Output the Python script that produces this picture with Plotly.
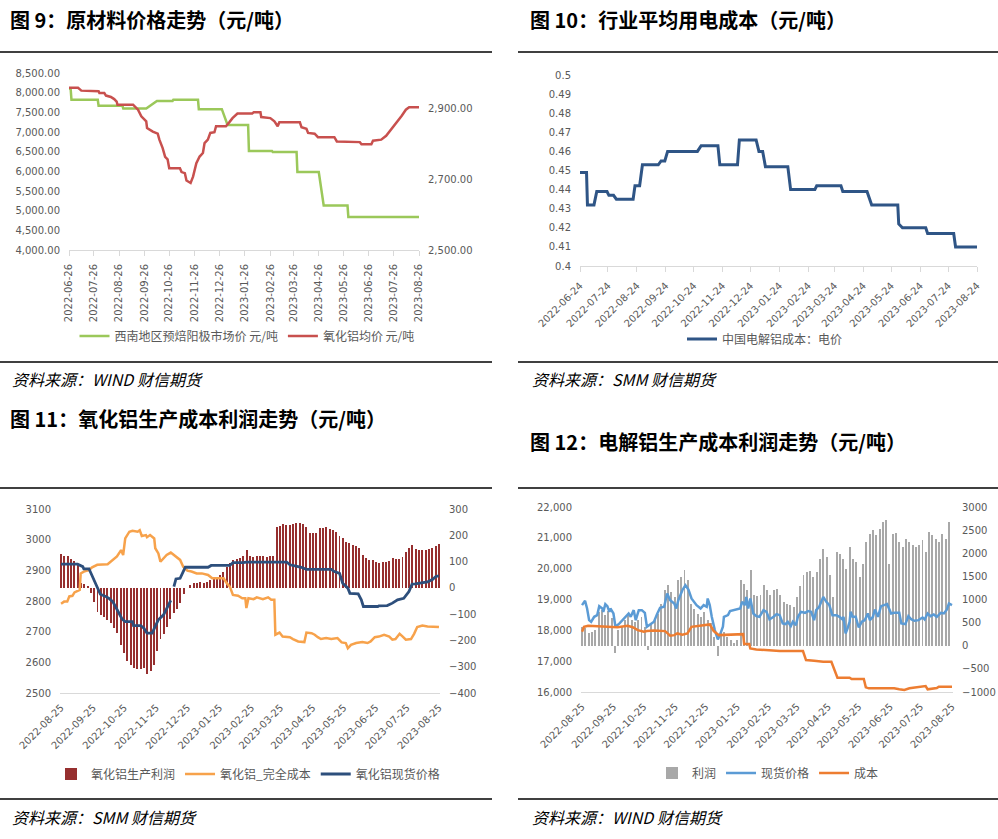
import pandas as pd
import plotly.graph_objects as go

W, H = 998, 839


def fx(p):
    return p / W


def fy(p):
    return 1 - p / H


# ---------------- Panel 1 : 原材料价格走势 ----------------
anode_dates = ["2022-06-26", "2022-06-28", "2022-06-29", "2022-07-31", "2022-08-01", "2022-08-30",
               "2022-08-31", "2022-09-28", "2022-10-11", "2022-10-30", "2022-10-31", "2022-11-30",
               "2022-12-01", "2022-12-29", "2023-01-05", "2023-01-30", "2023-01-31", "2023-02-28",
               "2023-03-01", "2023-03-30", "2023-03-31", "2023-04-26", "2023-05-02", "2023-05-31",
               "2023-06-01", "2023-08-26"]
anode_price = [8100, 8100, 7820, 7820, 7670, 7670, 7600, 7600, 7790, 7790, 7820, 7820, 7580, 7580,
               7180, 7180, 6520, 6520, 6490, 6490, 5980, 5980, 5130, 5130, 4840, 4840]

alumina_dates = ["2022-06-26", "2022-07-07", "2022-07-11", "2022-08-01", "2022-08-02", "2022-08-08",
                 "2022-08-10", "2022-08-16", "2022-08-20", "2022-08-23", "2022-08-24", "2022-09-12",
                 "2022-09-18", "2022-09-22", "2022-09-28", "2022-09-29", "2022-10-06", "2022-10-12",
                 "2022-10-14", "2022-10-18", "2022-10-21", "2022-10-24", "2022-10-26", "2022-11-08",
                 "2022-11-10", "2022-11-14", "2022-11-16", "2022-11-21", "2022-11-24", "2022-11-28",
                 "2022-12-02", "2022-12-06", "2022-12-08", "2022-12-12", "2022-12-15", "2022-12-20",
                 "2022-12-22", "2023-01-03", "2023-01-07", "2023-01-11", "2023-01-17", "2023-02-04",
                 "2023-02-06", "2023-02-14", "2023-02-15", "2023-02-26", "2023-03-03", "2023-03-07",
                 "2023-03-09", "2023-04-03", "2023-04-05", "2023-04-11", "2023-04-13", "2023-04-21",
                 "2023-04-25", "2023-05-15", "2023-05-18", "2023-06-15", "2023-06-17", "2023-06-29",
                 "2023-07-01", "2023-07-11", "2023-07-17", "2023-07-21", "2023-07-27", "2023-07-31",
                 "2023-08-02", "2023-08-05", "2023-08-10", "2023-08-14", "2023-08-26"]
alumina_price = [2960, 2960, 2952, 2950, 2945, 2945, 2938, 2934, 2928, 2921,
                 2912, 2912, 2898, 2879, 2865, 2846, 2836, 2830, 2813, 2789,
                 2764, 2757, 2732, 2732, 2721, 2718, 2697, 2690, 2708, 2746,
                 2765, 2775, 2803, 2813, 2832, 2834, 2851, 2851, 2862, 2874,
                 2887, 2887, 2891, 2891, 2877, 2874, 2865, 2851, 2862, 2862,
                 2848, 2844, 2832, 2830, 2820, 2820, 2808, 2806, 2800, 2800,
                 2810, 2813, 2824, 2836, 2851, 2865, 2870, 2881, 2898, 2905, 2905]
p1_ticks = [d.strftime("%Y-%m-%d") for d in pd.date_range("2022-06-26", periods=15, freq=pd.DateOffset(months=1))]

# ---------------- Panel 2 : 行业平均用电成本 ----------------
power_dates = ["2022-06-24", "2022-07-01", "2022-07-02", "2022-07-09", "2022-07-12", "2022-07-23",
               "2022-07-25", "2022-07-30", "2022-08-02", "2022-08-20", "2022-08-22", "2022-08-27",
               "2022-08-30", "2022-09-16", "2022-09-19", "2022-09-23", "2022-09-26", "2022-10-28",
               "2022-11-01", "2022-11-19", "2022-11-21", "2022-12-10", "2022-12-12", "2022-12-30",
               "2023-01-02", "2023-01-06", "2023-01-09", "2023-02-02", "2023-02-05", "2023-03-03",
               "2023-03-05", "2023-03-31", "2023-04-02", "2023-04-28", "2023-05-03", "2023-05-31",
               "2023-06-01", "2023-06-05", "2023-06-30", "2023-07-02", "2023-07-30", "2023-08-01",
               "2023-08-24"]
power_price = [0.449, 0.449, 0.432, 0.432, 0.439, 0.439, 0.437, 0.437, 0.435, 0.435,
               0.442, 0.442, 0.453, 0.453, 0.455, 0.455, 0.460, 0.460, 0.463, 0.463,
               0.453, 0.453, 0.466, 0.466, 0.460, 0.460, 0.452, 0.452, 0.440, 0.440,
               0.442, 0.442, 0.439, 0.439, 0.432, 0.432, 0.422, 0.420, 0.420, 0.417,
               0.417, 0.410, 0.410]
p2_ticks = [d.strftime("%Y-%m-%d") for d in pd.date_range("2022-06-24", periods=15, freq=pd.DateOffset(months=1))]

# ---------------- Panel 3 : 氧化铝生产成本利润 ----------------
base3 = pd.Timestamp("2022-08-25")
al_profit = [129, 122, 122, 110, 102, 90, 18, 13, 5, -20,
             -52, -90, -103, -109, -122, -134, -153, -172, -216, -248,
             -280, -292, -305, -308, -308, -305, -328, -318, -295, -240,
             -195, -175, -150, -118, -97, -80, -58, -25, 0, 10,
             18, 19, 21, 20, 24, 29, 33, 42, 49, 62,
             81, 96, 106, 109, 113, 122, 144, 122, 119, 122,
             122, 122, 119, 122, 122, 233, 235, 243, 240, 239,
             242, 246, 248, 243, 230, 209, 210, 210, 227, 227,
             230, 223, 220, 214, 197, 189, 176, 170, 163, 159,
             151, 125, 113, 106, 106, 100, 96, 97, 100, 104,
             113, 110, 110, 119, 138, 151, 163, 147, 144, 144,
             144, 147, 151, 159, 167]
al_profit_dates = pd.date_range("2022-08-25", "2023-08-25", periods=len(al_profit))

al_cost_day = [0, 3, 6, 8, 11, 13, 18, 19, 22, 27, 30, 35, 45, 50, 54, 58, 60, 62, 66, 69,
               74, 76, 78, 82, 83, 86, 90, 91, 94, 96, 99, 102, 106, 109, 112, 115, 118, 122, 126, 131,
               136, 139, 142, 146, 157, 160, 163, 166, 171, 175, 178, 179, 181, 186, 189, 195, 200, 203, 206, 207,
               211, 214, 221, 224, 229, 235, 237, 242, 245, 248, 251, 256, 261, 267, 271, 275, 277, 280, 285, 291,
               296, 299, 303, 307, 312, 317, 320, 323, 327, 330, 333, 338, 341, 344, 349, 354, 365]
al_cost = [2791, 2798, 2798, 2815, 2817, 2828, 2836, 2890, 2896, 2901,
           2910, 2918, 2920, 2934, 2945, 2966, 2950, 3004, 3026, 3029,
           3026, 3031, 3012, 3015, 3008, 3015, 3004, 2972, 2955, 2928,
           2939, 2950, 2958, 2950, 2942, 2934, 2912, 2899, 2896, 2890,
           2890, 2887, 2885, 2874, 2874, 2858, 2847, 2820, 2817, 2809,
           2809, 2777, 2809, 2806, 2812, 2806, 2812, 2804, 2804, 2690,
           2697, 2684, 2682, 2676, 2668, 2666, 2697, 2695, 2690, 2682,
           2676, 2679, 2676, 2679, 2665, 2663, 2646, 2657, 2663, 2666,
           2663, 2668, 2682, 2684, 2690, 2684, 2674, 2676, 2693, 2684,
           2674, 2676, 2693, 2715, 2720, 2717, 2715]

al_spot_day = [0, 16, 21, 22, 27, 29, 32, 35, 38, 43, 46, 50, 53, 56, 59, 62, 69, 70, 77, 80,
               83, 88, 91, 94, 99, 102, 106, 107, 109, 111, 115, 118, 120, 142, 145, 163, 166, 176, 179, 218,
               221, 227, 232, 237, 261, 264, 269, 272, 277, 279, 287, 290, 292, 306, 307, 315, 320, 325, 331, 336,
               339, 342, 345, 354, 359, 362, 365]
al_spot = [2920, 2920, 2912, 2905, 2905, 2890, 2869, 2842, 2822, 2815,
           2809, 2798, 2777, 2760, 2741, 2733, 2733, 2720, 2720, 2711,
           2695, 2695, 2717, 2739, 2755, 2777, 2802, None, 2847, 2872,
           2874, 2896, 2910, 2910, 2916, 2916, 2925, 2925, 2927, 2927,
           2918, 2914, 2910, 2903, 2903, 2896, 2890, 2858, 2842, 2825,
           2823, 2804, 2782, 2782, 2784, 2785, 2793, 2804, 2809, 2831,
           2855, 2856, 2858, 2862, 2871, 2880, 2882]
p3_ticks = [d.strftime("%Y-%m-%d") for d in pd.date_range("2022-08-25", periods=13, freq=pd.DateOffset(months=1))]

# ---------------- Panel 4 : 电解铝生产成本利润 ----------------
el_profit = [410, 374, 266, 302, 338, 733, 770, 662, 755, 590,
             -150, 338, 410, 554, 697, 554, 518, 554, 626, 410,
             -94, 482, 554, 697, 913, 1201, 1309, 1165, 1057, 1417,
             1489, 1647, 1417, 913, 805, 697, 626, 733, 554, 482,
             194, -223, 266, 302, 194, 122, 50, 122, 1417, 1345,
             1201, 1633, 1093, 1071, 1093, 1309, 1201, 1093, 1201, 1237,
             1093, 949, 913, 877, 841, 1057, 1288, 1525, 1597, 1619,
             1489, 1597, 1885, 2100, 1921, 1525, 1057, 2028, 1993, 1885,
             1669, 2136, 1885, 1813, 1489, 1777, 2244, 2424, 2496, 2388,
             2532, 2676, 2712, 1777, 2424, 2438, 2244, 2136, 2316, 2244,
             2172, 2136, 2172, 2280, 2028, 2460, 2388, 2316, 2244, 2424,
             2316, 2676]
el_profit_dates = pd.date_range("2022-08-25", "2023-08-22", periods=len(el_profit))

el_spot_day = [0, 2, 3, 5, 7, 9, 12, 15, 17, 20, 21, 23, 25, 27, 28, 31, 33, 37, 42, 46,
               48, 51, 53, 56, 59, 62, 64, 68, 71, 74, 77, 81, 84, 87, 91, 93, 95, 99, 102, 105,
               108, 113, 117, 120, 123, 124, 126, 128, 131, 134, 136, 139, 140, 144, 146, 156, 158, 161, 162, 164,
               166, 169, 172, 175, 179, 182, 185, 189, 192, 195, 198, 201, 203, 206, 208, 211, 213, 216, 220, 223,
               226, 229, 231, 234, 238, 241, 244, 247, 251, 254, 257, 258, 260, 262, 264, 265, 267, 270, 273, 276,
               279, 282, 284, 287, 289, 292, 295, 298, 301, 305, 308, 313, 315, 319, 322, 325, 328, 332, 336, 338,
               341, 344, 347, 350, 354, 357, 360, 362, 365]
el_spot = [18817, 18892, 18957, 18708, 18331, 18277, 18439, 18493, 18784, 18708,
           18600, 18849, 18784, 18600, 18708, 18547, 18115, 18223, 18385, 18547,
           18439, 18655, 18331, 18655, 18655, 18568, 18115, 18223, 18277, 18525,
           18730, 18763, 19194, 18978, 18870, 18708, 18978, 19302, 19464, 19324,
           19032, 18817, 18708, 18817, 18763, 19032, 18817, 18439, 18007, 17705,
           17845, 18115, 18439, 18493, 18622, 18708, 18924, 18817, 19086, 18708,
           19032, 18547, 18460, 18439, 18655, 18600, 18352, 18439, 18525, 18493,
           18223, 18201, 18277, 18137, 18277, 18169, 18439, 18600, 18568, 18622,
           18600, 18331, 18655, 18763, 19086, 18924, 18817, 18493, 18493, 18439,
           18352, 18439, 17899, 18061, 18277, 18600, 18439, 18439, 18093, 18277,
           18331, 18547, 18331, 18439, 18676, 18439, 18784, 18817, 18849, 18547,
           18568, 18568, 18223, 18201, 18460, 18352, 18309, 18331, 18417, 18352,
           18547, 18460, 18514, 18439, 18568, 18547, 18676, 18870, 18817]

el_cost_day = [0, 2, 6, 28, 35, 45, 50, 55, 61, 64, 71, 82, 87, 91, 94, 99, 104, 108, 115, 121,
               126, 130, 135, 159, 160, 165, 166, 172, 185, 190, 195, 218, 221, 229, 238, 246, 249, 252, 264, 266,
               278, 280, 283, 308, 313, 318, 323, 329, 336, 339, 341, 346, 350, 352, 365]
el_cost = [17953, 18115, 18147, 18115, 18100, 18147, 18100, 18007, 17953, 17975,
           17996, 17975, 17824, 17845, 17899, 17860, 17899, 18115, 18147, 18191,
           18191, 17975, 17845, 17877, 17554, 17554, 17414, 17381, 17360, 17338,
           17327, 17327, 17036, 17014, 16982, 16982, 16712, 16464, 16464, 16421,
           16421, 16151, 16119, 16119, 16086, 16065, 16119, 16151, 16173, 16194,
           16086, 16119, 16130, 16173, 16173]
p4_ticks = p3_ticks


def days_to_dates(days):
    return [base3 + pd.Timedelta(days=d) for d in days]


# ---------------- styles ----------------
TICK = dict(family="DejaVu Sans", size=10, color="#595959")
LEG = dict(family="Noto Sans CJK SC", size=12, color="#595959")
AXLINE = "#D9D9D9"
DAY_MS = 86400000

fig = go.Figure()

# Panel 1
fig.add_trace(go.Scatter(x=anode_dates, y=anode_price, mode="lines", name="西南地区预焙阳极市场价 元/吨",
                         line=dict(color="#9BC85A", width=2.5), xaxis="x", yaxis="y", legend="legend"))
fig.add_trace(go.Scatter(x=alumina_dates, y=alumina_price, mode="lines", name="氧化铝均价 元/吨",
                         line=dict(color="#C8504E", width=2.5), xaxis="x", yaxis="y2", legend="legend"))

# Panel 2
fig.add_trace(go.Scatter(x=power_dates, y=power_price, mode="lines", name="中国电解铝成本：电价",
                         line=dict(color="#2F5586", width=3), xaxis="x2", yaxis="y3", legend="legend2"))

# Panel 3
fig.add_trace(go.Bar(x=al_profit_dates, y=al_profit, name="氧化铝生产利润", marker_color="#962F2F",
                     marker_line_width=0, width=0.95 * DAY_MS, xaxis="x3", yaxis="y4", legend="legend3"))
fig.add_trace(go.Scatter(x=days_to_dates(al_cost_day), y=al_cost, mode="lines", name="氧化铝_完全成本",
                         line=dict(color="#F7A24B", width=2.5), xaxis="x3", yaxis="y5", legend="legend3"))
fig.add_trace(go.Scatter(x=days_to_dates(al_spot_day), y=al_spot, mode="lines", name="氧化铝现货价格",
                         line=dict(color="#2D4F7C", width=2.8), connectgaps=False,
                         xaxis="x3", yaxis="y5", legend="legend3"))

# Panel 4
fig.add_trace(go.Bar(x=el_profit_dates, y=el_profit, name="利润", marker_color="#A8A8A8",
                     marker_line_width=0, width=0.95 * DAY_MS, xaxis="x4", yaxis="y6", legend="legend4"))
fig.add_trace(go.Scatter(x=days_to_dates(el_spot_day), y=el_spot, mode="lines", name="现货价格",
                         line=dict(color="#5B9BD5", width=2.5), xaxis="x4", yaxis="y7", legend="legend4"))
fig.add_trace(go.Scatter(x=days_to_dates(el_cost_day), y=el_cost, mode="lines", name="成本",
                         line=dict(color="#ED7D31", width=2.5), xaxis="x4", yaxis="y7", legend="legend4"))


def xax(domain, anchor, rng, ticks, angle, tick_marks):
    return dict(domain=domain, anchor=anchor, type="date", range=rng, tickvals=ticks, ticktext=ticks,
                tickangle=angle, tickfont=TICK, showgrid=False, zeroline=False, showline=True,
                linecolor=AXLINE, linewidth=1, ticks="outside" if tick_marks else "",
                ticklen=5, tickcolor=AXLINE, fixedrange=True, automargin=False, ticklabelstandoff=4)


def yax(**kw):
    d = dict(showgrid=False, zeroline=False, showline=False, tickfont=TICK, ticks="",
             ticklabelstandoff=8, fixedrange=True, automargin=False)
    d.update(kw)
    return d


layout = dict(
    width=W, height=H, margin=dict(l=0, r=0, t=0, b=0, autoexpand=False),
    paper_bgcolor="white", plot_bgcolor="rgba(0,0,0,0)", showlegend=True, barmode="overlay",
    bargap=0,
    xaxis=xax([fx(69), fx(419)], "y", ["2022-06-26", "2023-08-26"], p1_ticks, -90, True),
    yaxis=yax(domain=[fy(250), fy(73)], anchor="x", range=[4000, 8500], dtick=500, tickformat=",.2f"),
    yaxis2=yax(overlaying="y", side="right", anchor="x", range=[2500, 3002],
               tickvals=[2500, 2700, 2900], tickformat=",.2f"),
    xaxis2=xax([fx(580), fx(977)], "y3", ["2022-06-24", "2023-08-24"], p2_ticks, -45, True),
    yaxis3=yax(domain=[fy(266), fy(75)], anchor="x2", range=[0.4, 0.5], dtick=0.01),
    xaxis3=xax([fx(60), fx(440)], "y4", ["2022-08-24", "2023-08-26"], p3_ticks, -45, False),
    yaxis4=yax(domain=[fy(693), fy(509)], anchor="x3", side="right", range=[-400, 300], dtick=100),
    yaxis5=yax(overlaying="y4", anchor="x3", side="left", range=[2500, 3100], dtick=100),
    xaxis4=xax([fx(581), fx(953)], "y6", ["2022-08-24", "2023-08-26"], p4_ticks, -45, False),
    yaxis6=yax(domain=[fy(692), fy(507)], anchor="x4", side="right", range=[-1000, 3000], dtick=500,
               tickformat="d", ticklabelstandoff=8),
    yaxis7=yax(overlaying="y6", anchor="x4", side="left", range=[16000, 22000], dtick=1000, tickformat=","),
)


def leg(xc, yc):
    return dict(x=fx(xc), y=fy(yc), xanchor="center", yanchor="middle", orientation="h",
                font=LEG, bgcolor="rgba(0,0,0,0)", itemwidth=30, tracegroupgap=0, itemclick=False)


layout["legend"] = leg(247, 336)
layout["legend2"] = leg(765, 339)
layout["legend3"] = leg(248, 774)
layout["legend4"] = leg(768, 773)
fig.update_layout(**layout)

# titles, rules, sources
TITLE = dict(family="Noto Sans CJK SC", size=20, color="#000000", weight="bold")
SRC = dict(family="Noto Sans CJK SC", size=16, color="#000000", style="italic")
titles = [("图 9：原材料价格走势（元/吨）", 8, 20),
          ("图 10：行业平均用电成本（元/吨）", 528, 20),
          ("图 11：氧化铝生产成本利润走势（元/吨）", 8, 418),
          ("图 12：电解铝生产成本利润走势（元/吨）", 528, 441)]
for txt, x, y in titles:
    fig.add_annotation(text=txt, x=fx(x), y=fy(y), xref="paper", yref="paper", xanchor="left",
                       yanchor="middle", showarrow=False, font=TITLE)
sources = [("资料来源：WIND 财信期货", 10, 379), ("资料来源：SMM 财信期货", 530, 379),
           ("资料来源：SMM 财信期货", 10, 817), ("资料来源：WIND 财信期货", 530, 817)]
for txt, x, y in sources:
    fig.add_annotation(text=txt, x=fx(x), y=fy(y), xref="paper", yref="paper", xanchor="left",
                       yanchor="middle", showarrow=False, font=SRC)
rules = [(0, 492, 52), (518, 998, 52), (0, 492, 362), (518, 998, 362),
         (0, 492, 488), (518, 998, 488), (0, 492, 799), (518, 998, 799)]
for x0, x1, y in rules:
    fig.add_shape(type="line", xref="paper", yref="paper", x0=fx(x0), x1=fx(x1), y0=fy(y), y1=fy(y),
                  line=dict(color="#000000", width=1.3))

fig.write_html("out.html", config={"displayModeBar": False},
               post_script="document.body.style.margin='0px';document.body.style.padding='0px';")
